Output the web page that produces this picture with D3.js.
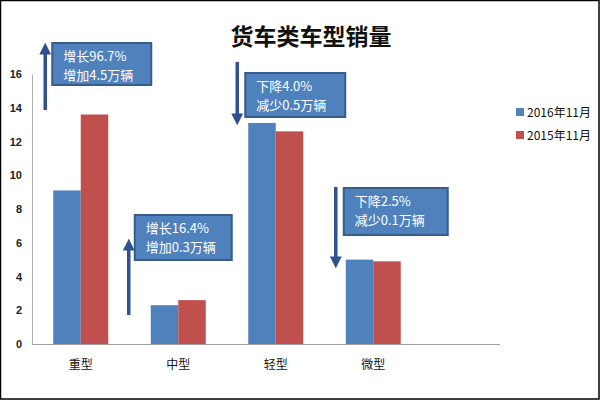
<!DOCTYPE html>
<html><head><meta charset="utf-8">
<script src="https://cdn.jsdelivr.net/npm/d3@7/dist/d3.min.js"></script>
<style>body{margin:0;background:#fff}svg{display:block}</style>
</head><body>
<script>
const categories = ["重型", "中型", "轻型", "微型"];
const seriesNames = ["2016年11月", "2015年11月"];
const values2016 = [9.1, 2.3, 13.1, 5.0];
const values2015 = [13.6, 2.6, 12.6, 4.9];
const yTicks = [0, 2, 4, 6, 8, 10, 12, 14, 16];
const noteCats = ["重型", "中型", "轻型", "微型"];
const noteDirs = ["up", "up", "down", "down"];
const noteLine1 = ["增长96.7%", "增长16.4%", "下降4.0%", "下降2.5%"];
const noteLine2 = ["增加4.5万辆", "增加0.3万辆", "减少0.5万辆", "减少0.1万辆"];

// layout of the callouts (pixels, relative to the category band start)
const noteLayout = [
  {adx: -8, from: 110, to: 43, bdx: 7, by: 43, bw: 99, bh: 42},
  {adx: -22, from: 315, to: 239, bdx: 6, by: 215, bw: 97, bh: 45},
  {adx: -11, from: 62, to: 125, bdx: 8, by: 73, bw: 100, bh: 44},
  {adx: -10, from: 187, to: 268, bdx: 8, by: 188, bw: 104, bh: 47}
];
const colors = ["#4F81BD", "#C0504D"];

const W = 600, H = 400;
const svg = d3.select("body").append("svg").attr("width", W).attr("height", H)
  .style("font-family", "'Liberation Sans','Noto Sans CJK SC',sans-serif");

svg.append("rect").attr("x", 0.5).attr("y", 0.5).attr("width", W - 1.5).attr("height", H - 1.5)
  .attr("fill", "#fff").attr("stroke", "#000").attr("stroke-width", 1.5);

const x0 = 32, y0 = 344, y1 = 74;
const x = d3.scaleBand().domain(categories).range([x0, x0 + 390]).paddingInner(0.436).paddingOuter(0.218);
const xs = d3.scaleBand().domain(seriesNames).range([0, x.bandwidth()]);
const y = d3.scaleLinear().domain([0, 16]).range([y0, y1]);

// title
svg.append("text").attr("x", 311).attr("y", 45).attr("text-anchor", "middle")
  .attr("font-size", 23).attr("font-weight", "bold").attr("fill", "#111")
  .attr("font-family", "'Noto Sans CJK SC',sans-serif").text("货车类车型销量");

// y axis
const yAxis = d3.axisLeft(y).tickValues(yTicks).tickSize(0).tickPadding(10);
const gy = svg.append("g").attr("transform", `translate(${x0},0)`).call(yAxis);
gy.select(".domain").attr("stroke", "#b0b0b0").attr("stroke-width", 1);
gy.selectAll("text").attr("font-size", 11).attr("font-weight", "bold").attr("fill", "#222")
  .attr("font-family", "'Liberation Sans',sans-serif");

// x axis
svg.append("line").attr("x1", x0).attr("x2", 500).attr("y1", y0 + 0.5).attr("y2", y0 + 0.5)
  .attr("stroke", "#a0a0a0").attr("stroke-width", 1);
const xAxis = d3.axisBottom(x).tickSize(0).tickPadding(16);
const gx = svg.append("g").attr("transform", `translate(0,${y0})`).call(xAxis);
gx.select(".domain").remove();
gx.selectAll("text").attr("font-size", 12).attr("fill", "#111")
  .attr("font-family", "'Noto Sans CJK SC',sans-serif");

// bars
const series = [values2016, values2015];
series.forEach((vals, si) => {
  svg.append("g").selectAll("rect").data(categories).join("rect")
    .attr("x", c => x(c) + xs(seriesNames[si]))
    .attr("y", (c, i) => y(vals[i]))
    .attr("width", xs.bandwidth())
    .attr("height", (c, i) => y0 - y(vals[i]))
    .attr("fill", colors[si]);
});

// annotations
const defs = svg.append("defs");
defs.append("marker").attr("id", "ah").attr("viewBox", "0 0 10 10").attr("refX", 3).attr("refY", 5)
  .attr("markerWidth", 3.4).attr("markerHeight", 3.4).attr("orient", "auto-start-reverse")
  .append("path").attr("d", "M0,0 L10,5 L0,10 Z").attr("fill", "#2F528F");

noteCats.forEach((cat, k) => {
  const L = noteLayout[k];
  const ax = x(cat) + L.adx;
  const up = noteDirs[k] === "up";
  svg.append("line").attr("x1", ax).attr("x2", ax)
    .attr("y1", L.from).attr("y2", L.to + (up ? 8 : -8))
    .attr("stroke", "#2F528F").attr("stroke-width", 3.5).attr("marker-end", "url(#ah)");
  const bx = x(cat) + L.adx + L.bdx;
  svg.append("rect").attr("x", bx).attr("y", L.by).attr("width", L.bw).attr("height", L.bh)
    .attr("fill", "#4F81BD").attr("stroke", "#385D8A").attr("stroke-width", 2);
  [noteLine1[k], noteLine2[k]].forEach((t, i) => {
    svg.append("text").attr("x", bx + 11).attr("y", L.by + 18 + i * 19)
      .attr("font-size", 13).attr("fill", "#fff")
      .attr("font-family", "'Noto Sans CJK SC',sans-serif").text(t);
  });
});

// legend
seriesNames.forEach((s, i) => {
  const ly = 112 + i * 23;
  svg.append("rect").attr("x", 516).attr("y", ly - 4).attr("width", 8).attr("height", 8).attr("fill", colors[i]);
  svg.append("text").attr("x", 527).attr("y", ly + 4.5).attr("font-size", 12).attr("fill", "#111")
    .attr("font-family", "'Noto Sans CJK SC',sans-serif").text(s);
});
</script>
</body></html>
